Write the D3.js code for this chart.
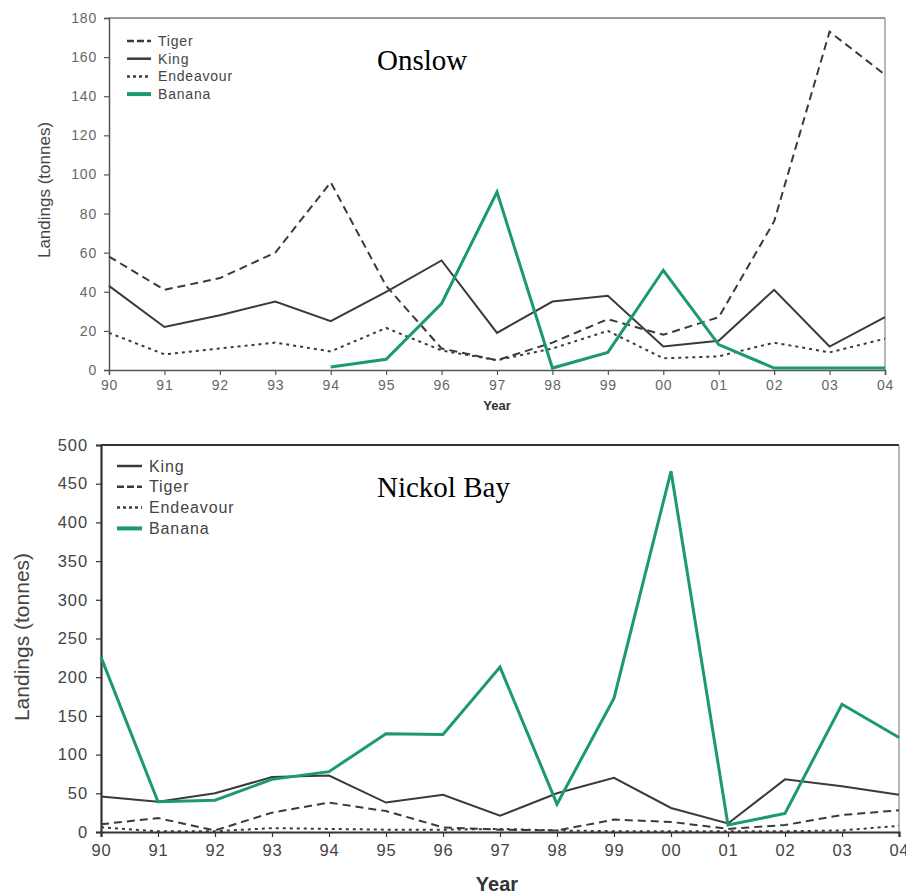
<!DOCTYPE html>
<html>
<head>
<meta charset="utf-8">
<script src="https://cdn.jsdelivr.net/npm/d3@7"></script>
<style>
  body { margin: 0; background: #fff; }
  text { font-family: Arial, "Liberation Sans", sans-serif; }
</style>
</head>
<body>
<div id="chart-area"></div>
<script>
const years = ["90","91","92","93","94","95","96","97","98","99","00","01","02","03","04"];

// Onslow
const onslowTiger     = [58, 41, 47, 60, 96, 43, 11, 5, 14, 26, 18, 27, 76, 173, 151];
const onslowKing      = [43, 22, 28, 35, 25, 40, 56, 19, 35, 38, 12, 15, 41, 12, 27];
const onslowEndeavour = [19, 8, 11, 14, 9.5, 21.5, 10, 5, 11, 20, 6, 7, 14, 9, 16];
const onslowBanana    = [null, null, null, null, 1.5, 5.5, 34, 91, 1, 9, 51, 13, 1, 1, 1];

// Nickol Bay
const nickolKing      = [46, 39, 50, 71, 73, 38, 48, 21, 50, 70, 31, 11, 68, 59, 48];
const nickolTiger     = [10, 18, 2, 25, 38, 27, 6, 3, 2, 16, 13, 4, 9, 22, 28];
const nickolEndeavour = [6, 1, 1, 5, 4, 3, 3, 4, 2, 1, 1, 1, 1, 2, 8];
const nickolBanana    = [226, 39, 41, 68, 78, 127, 126, 213, 36, 173, 466, 9, 24, 165, 122];

const green = "#1b9a6e";
const styles = {
  Tiger:     {stroke: "#3a3a3a", width: 2, dash: "8,5"},
  King:      {stroke: "#3a3a3a", width: 2, dash: null},
  Endeavour: {stroke: "#3a3a3a", width: 2, dash: "3,4"},
  Banana:    {stroke: green, width: 3, dash: null}
};

let svg = d3.select("#chart-area")
  .append("svg")
  .attr("width", 906)
  .attr("height", 895);

function drawChart(cfg) {
  let width = cfg.right - cfg.left;
  let height = cfg.bottom - cfg.top;

  let g = svg.append("g")
    .attr("transform", "translate(" + cfg.left + "," + cfg.top + ")");

  let xVal = d3.scalePoint().domain(years).range([0, width]);
  let yVal = d3.scaleLinear().domain([0, cfg.yMax]).range([height, 0]);

  // frame: top and right edges
  g.append("line").attr("x1", 0).attr("x2", width).attr("y1", 0).attr("y2", 0)
    .attr("stroke", cfg.topColor).attr("stroke-width", cfg.frameW);
  g.append("line").attr("x1", width).attr("x2", width).attr("y1", 0).attr("y2", height)
    .attr("stroke", "#888").attr("stroke-width", 1.2);

  let xAxis = d3.axisBottom(xVal).tickSize(5).tickPadding(cfg.xPad);
  let xAxis_group = g.append("g")
    .attr("transform", "translate(0," + height + ")")
    .call(xAxis);

  let yAxis = d3.axisLeft(yVal).tickValues(d3.range(0, cfg.yMax + 1, cfg.yStep)).tickSize(5).tickPadding(cfg.yPad);
  let yAxis_group = g.append("g").call(yAxis);

  [xAxis_group, yAxis_group].forEach(ax => {
    ax.select(".domain").attr("stroke", cfg.axisColor).attr("stroke-width", cfg.frameW);
    ax.selectAll(".tick line").attr("stroke", cfg.axisColor).attr("stroke-width", 1.2);
    ax.selectAll(".tick text")
      .attr("fill", cfg.tickColor)
      .attr("font-size", cfg.tickSize + "px")
      .attr("font-family", "Arial, sans-serif")
      .attr("letter-spacing", cfg.tickSpacing + "px");
  });

  // series
  cfg.series.forEach(s => {
    let st = styles[s.name];
    let line = d3.line()
      .defined(d => d != null)
      .x((d, i) => xVal(years[i]))
      .y(d => yVal(d));
    g.append("path")
      .attr("d", line(s.values))
      .attr("fill", "none")
      .attr("stroke", st.stroke)
      .attr("stroke-width", st.width)
      .attr("stroke-dasharray", st.dash)
      .attr("stroke-linejoin", "miter");
  });

  // legend
  cfg.series.forEach((s, i) => {
    let st = styles[s.name];
    let ly = cfg.legY + i * cfg.legStep - cfg.top;
    g.append("line")
      .attr("x1", cfg.legX1 - cfg.left).attr("x2", cfg.legX2 - cfg.left)
      .attr("y1", ly).attr("y2", ly)
      .attr("stroke", st.stroke)
      .attr("stroke-width", s.name == "Banana" ? 4 : 2.5)
      .attr("stroke-dasharray", s.name == "Tiger" ? "7,3" : s.name == "Endeavour" ? "3,3" : null);
    g.append("text")
      .attr("x", cfg.legX2 + 7 - cfg.left)
      .attr("y", ly)
      .attr("dy", "0.35em")
      .attr("fill", "#444")
      .attr("font-size", cfg.legSize + "px")
      .attr("letter-spacing", cfg.tickSpacing + "px")
      .text(s.name);
  });

  // title
  g.append("text")
    .attr("x", 377 - cfg.left)
    .attr("y", cfg.titleY - cfg.top)
    .attr("font-size", "29px")
    .attr("fill", "#000")
    .style("font-family", "'Liberation Serif', 'Times New Roman', serif")
    .text(cfg.title);

  // axis labels
  g.append("text")
    .attr("x", 497 - cfg.left)
    .attr("y", cfg.yearY - cfg.top)
    .attr("text-anchor", "middle")
    .attr("font-weight", "bold")
    .attr("font-size", cfg.yearSize + "px")
    .attr("fill", "#333")
    .text("Year");

  g.append("text")
    .attr("transform", "rotate(-90)")
    .attr("x", -(cfg.ylabCY - cfg.top))
    .attr("y", cfg.ylabX - cfg.left)
    .attr("text-anchor", "middle")
    .attr("dy", "0.35em")
    .attr("font-size", cfg.ylabSize + "px")
    .attr("fill", "#444")
    .text("Landings (tonnes)");
}

drawChart({
  left: 109, right: 885, top: 18, bottom: 370,
  yMax: 180, yStep: 20,
  topColor: "#777", axisColor: "#555", tickColor: "#666", frameW: 1.5,
  tickSize: 14, tickSpacing: 0.8, xPad: 5, yPad: 7,
  series: [
    {name: "Tiger", values: onslowTiger},
    {name: "King", values: onslowKing},
    {name: "Endeavour", values: onslowEndeavour},
    {name: "Banana", values: onslowBanana}
  ],
  legX1: 127, legX2: 151, legY: 41, legStep: 17.7, legSize: 14,
  title: "Onslow", titleY: 70,
  yearY: 410, yearSize: 13,
  ylabX: 44, ylabCY: 190, ylabSize: 17
});

drawChart({
  left: 101, right: 899, top: 445, bottom: 832,
  yMax: 500, yStep: 50,
  topColor: "#333", axisColor: "#333", tickColor: "#444", frameW: 2.2,
  tickSize: 16.5, tickSpacing: 0.9, xPad: 7, yPad: 8,
  series: [
    {name: "King", values: nickolKing},
    {name: "Tiger", values: nickolTiger},
    {name: "Endeavour", values: nickolEndeavour},
    {name: "Banana", values: nickolBanana}
  ],
  legX1: 117, legX2: 142, legY: 466, legStep: 20.8, legSize: 16,
  title: "Nickol Bay", titleY: 497,
  yearY: 891, yearSize: 20,
  ylabX: 22, ylabCY: 637, ylabSize: 21
});
</script>
</body>
</html>
